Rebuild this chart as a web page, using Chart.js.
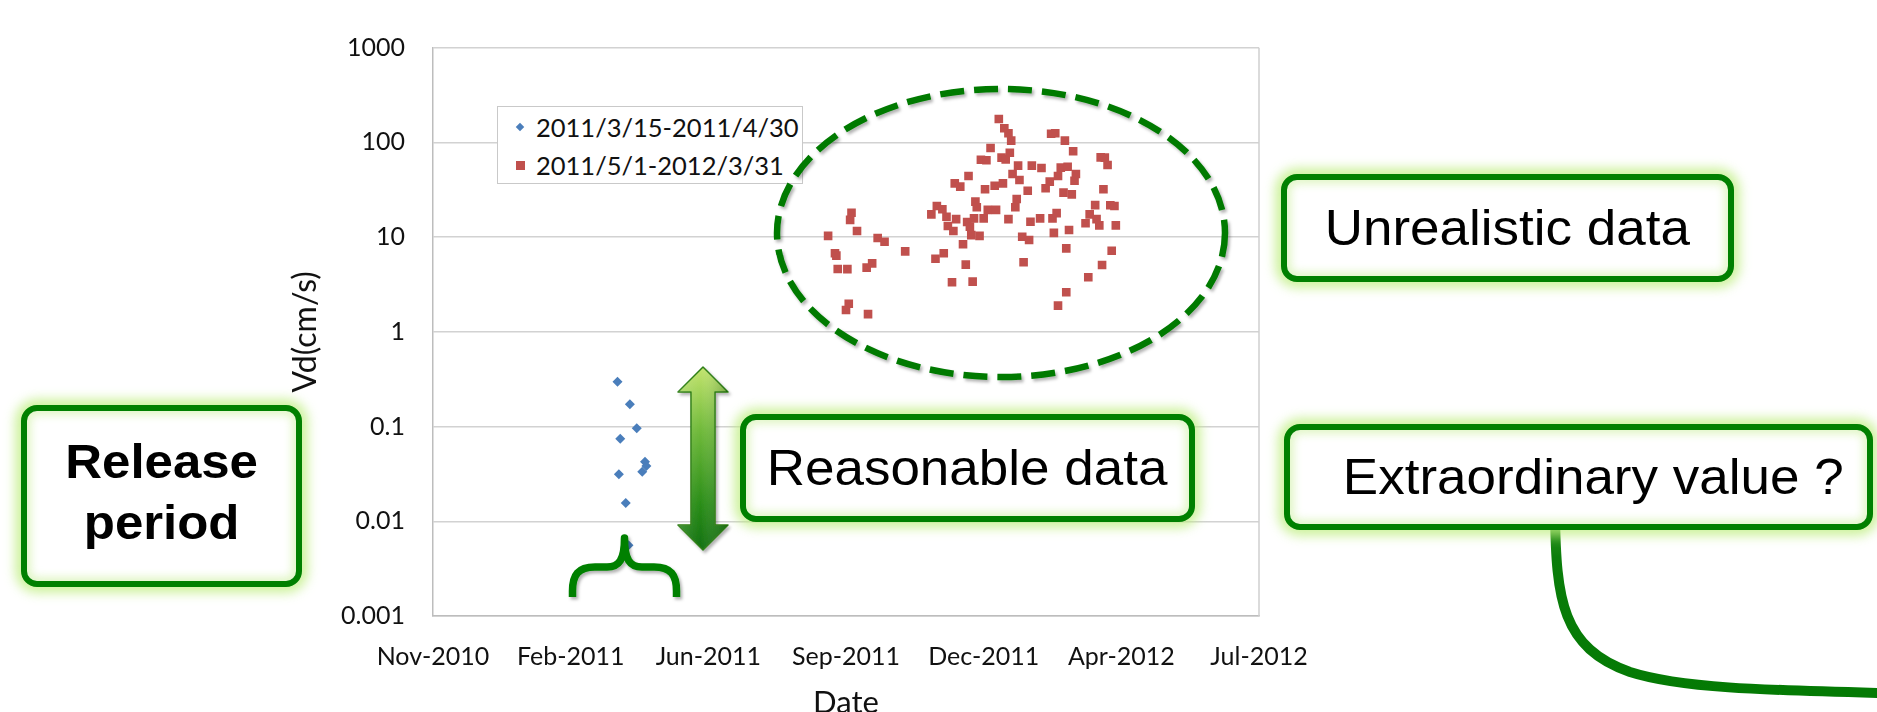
<!DOCTYPE html>
<html>
<head>
<meta charset="utf-8">
<title>Vd(cm/s)</title>
<script src="https://cdn.jsdelivr.net/npm/chart.js@4.4.1/dist/chart.umd.min.js"></script>
<style>
  html, body { margin: 0; padding: 0; background: #fff; }
  #stage { position: relative; width: 1877px; height: 712px; overflow: hidden; background: #fff; }
  #plot { position: absolute; left: 0; top: 0; }
  #legend { position: absolute; left: 497px; top: 106px; width: 306px; height: 78px; box-sizing: border-box;
            border: 1.5px solid #c9c9c9; background: #fff; font-family: Lato, sans-serif; font-size: 25.5px; color: #111; }
  .lg-mark { position: absolute; }
  .lg-text { position: absolute; left: 38px; white-space: nowrap; line-height: 30px; height: 30px; }
  #marks { position: absolute; left: 0; top: 0; }
  .note { position: absolute; box-sizing: border-box; border: 6px solid #008000; border-radius: 16px; background: #fff;
          box-shadow: 0 0 11px 6px rgba(190,238,125,.75), inset 0 0 9px 4px rgba(205,240,160,.6);
          display: flex; align-items: center; justify-content: center;
          font-family: "Liberation Sans", Arial, sans-serif; color: #000; font-size: 50px; line-height: 1.22; text-align: center; }
  .note span { display: inline-block; transform: scaleX(1.06); }
  .note.heavy span { font-weight: bold; font-size: 49px; line-height: 61px; transform: scaleX(1.04); margin-top: -8px; }
</style>
</head>
<body>
<div id="stage">
  <canvas id="plot" width="1877" height="712"></canvas>
  <div id="legend"></div>
  <svg id="marks" width="1877" height="712" viewBox="0 0 1877 712">
    <defs>
      <filter id="soft" x="-10%" y="-10%" width="125%" height="125%">
        <feDropShadow dx="2" dy="2.5" stdDeviation="1.6" flood-color="#000" flood-opacity="0.3"/>
      </filter>
      <linearGradient id="arrowFill" x1="0" y1="0" x2="0" y2="1">
        <stop offset="0" stop-color="#c3e46e"/>
        <stop offset="0.35" stop-color="#6fb93a"/>
        <stop offset="0.75" stop-color="#2a8d18"/>
        <stop offset="1" stop-color="#127010"/>
      </linearGradient>
      <linearGradient id="arrowShade" x1="0" y1="0" x2="1" y2="0">
        <stop offset="0" stop-color="#ffffff" stop-opacity="0.15"/>
        <stop offset="0.45" stop-color="#ffffff" stop-opacity="0"/>
        <stop offset="1" stop-color="#003300" stop-opacity="0.3"/>
      </linearGradient>
      <linearGradient id="stemFill" x1="0" y1="0" x2="0" y2="1">
        <stop offset="0" stop-color="#3f9f2a"/>
        <stop offset="0.25" stop-color="#0b7d0b"/>
        <stop offset="1" stop-color="#047a04"/>
      </linearGradient>
    </defs>
    <!-- dashed ring around the May 2011 - March 2012 cluster -->
    <ellipse cx="1001" cy="233" rx="224" ry="144" fill="none" stroke="#007a00" stroke-width="6.5"
             stroke-dasharray="24 10" filter="url(#soft)"/>
    <!-- brace under the release-period points -->
    <path d="M572.5 597 L572.5 591 C572.5 575 578 567 595 567 L607 567 C619 567 624.5 560 624.5 538
             C624.5 560 630 567 642 567 L654 567 C671 567 676.5 575 676.5 591 L676.5 597"
          fill="none" stroke="#008000" stroke-width="7.5" stroke-linejoin="round" filter="url(#soft)"/>
    <!-- double-headed arrow spanning the reasonable range -->
    <g filter="url(#soft)">
      <path d="M703 367 L728 392 L715 392 L715 525 L728 525 L703 550 L678 525 L691 525 L691 392 L678 392 Z"
            fill="url(#arrowFill)" stroke="#2c7d12" stroke-width="1.5" stroke-linejoin="round"/>
      <path d="M703 367 L728 392 L715 392 L715 525 L728 525 L703 550 L678 525 L691 525 L691 392 L678 392 Z"
            fill="url(#arrowShade)"/>
    </g>
    <!-- leader from the extraordinary-value callout -->
    <path d="M1555 512 C1556 600 1562 648 1630 672 C1680 688 1760 690 1880 693"
          fill="none" stroke="url(#stemFill)" stroke-width="10"/>
  </svg>
  <div class="note heavy" style="left:21px; top:405px; width:281px; height:182px;"><span>Release<br>period</span></div>
  <div class="note" style="left:740px; top:414px; width:455px; height:108px;"><span>Reasonable data</span></div>
  <div class="note" style="left:1281px; top:174px; width:453px; height:108px;"><span>Unrealistic data</span></div>
  <div class="note" style="left:1284px; top:424px; width:589px; height:106px; padding-left:30px;"><span>Extraordinary value ?</span></div>
</div>
<script>
// Release period: 2011/3/15 - 2011/4/30
const releaseDates = ['2011-04-01', '2011-04-02', '2011-04-03', '2011-04-07', '2011-04-09',
                      '2011-04-10', '2011-04-15', '2011-04-19', '2011-04-21', '2011-04-22'];
const releaseVd = [0.298, 0.0313, 0.0745, 0.0156, 0.0056, 0.172, 0.096, 0.0334, 0.0426, 0.0384];

// After release: 2011/5/1 - 2012/3/31
const laterDates = [
  '2011-09-01', '2011-09-06', '2011-09-07', '2011-09-08', '2011-09-14', '2011-09-15', '2011-09-16',
  '2011-09-17', '2011-09-18', '2011-09-22', '2011-09-29', '2011-09-30',
  '2011-10-03', '2011-10-07', '2011-10-12', '2011-10-27',
  '2011-11-15', '2011-11-18', '2011-11-19', '2011-11-23', '2011-11-24', '2011-11-26', '2011-11-27', '2011-11-30',
  '2011-12-01', '2011-12-02', '2011-12-03', '2011-12-06', '2011-12-08', '2011-12-10', '2011-12-11',
  '2011-12-12', '2011-12-13', '2011-12-14', '2011-12-15', '2011-12-16', '2011-12-17', '2011-12-18',
  '2011-12-20', '2011-12-21', '2011-12-23', '2011-12-24', '2011-12-25', '2011-12-26', '2011-12-28', '2011-12-31',
  '2012-01-01', '2012-01-03', '2012-01-05', '2012-01-06', '2012-01-07', '2012-01-08', '2012-01-10',
  '2012-01-10', '2012-01-11', '2012-01-12', '2012-01-13', '2012-01-15', '2012-01-16', '2012-01-17',
  '2012-01-18', '2012-01-20', '2012-01-21', '2012-01-24', '2012-01-25', '2012-01-26', '2012-01-27',
  '2012-02-02', '2012-02-03', '2012-02-06', '2012-02-09', '2012-02-10', '2012-02-11', '2012-02-12',
  '2012-02-13', '2012-02-14', '2012-02-15', '2012-02-15', '2012-02-17', '2012-02-19', '2012-02-20',
  '2012-02-21', '2012-02-21', '2012-02-22', '2012-02-23', '2012-02-25', '2012-02-26', '2012-02-27', '2012-02-28',
  '2012-03-06', '2012-03-08', '2012-03-09', '2012-03-13', '2012-03-14', '2012-03-16', '2012-03-17',
  '2012-03-18', '2012-03-19', '2012-03-20', '2012-03-22', '2012-03-24', '2012-03-25', '2012-03-27', '2012-03-28'
];
const laterVd = [
  10.3, 6.75, 6.37, 4.61, 1.70, 4.6, 1.98,
  15.2, 18.1, 11.6, 4.76, 1.54,
  5.29, 9.8, 8.95, 7.08,
  17.4, 5.92, 21.3, 19.7, 6.75, 16.4, 13.1, 3.34,
  11.6, 37.0, 15.5, 34.1, 8.4, 5.12, 14.45,
  44.2, 12.9, 10.5, 3.39, 15.8, 23.7, 20.7,
  10.3, 65.7, 15.8, 32.0, 64.8, 19.4, 87.3, 34.9,
  19.4, 176.7, 69.0, 37.0, 141, 66.3, 124.8,
  15.5, 77.9, 104.3, 46.4, 20.7, 25.3, 56.8,
  40.1, 10.1, 5.43, 30.9, 9.33, 14.55, 56.8,
  15.8, 53.7, 32.8, 38.5, 123.6, 15.8, 11.1,
  124.8, 17.9, 44.2, 1.89, 54.1, 29.5, 104.3,
  7.62, 2.62, 55.4, 11.9, 28.3, 80.6, 39.4, 46.4,
  14.0, 3.77, 17.4, 21.8, 15.5, 13.3, 69.6,
  5.08, 32.0, 69.0, 57.8, 21.7, 7.19, 21.3, 13.3
];

const seriesLabels = ['2011/3/15-2011/4/30', '2011/5/1-2012/3/31'];

// Date axis: 100-day steps
const xTickDates = ['2010-11-18', '2011-02-26', '2011-06-06', '2011-09-14', '2011-12-23', '2012-04-01', '2012-07-10'];
const xTickLabels = ['Nov-2010', 'Feb-2011', 'Jun-2011', 'Sep-2011', 'Dec-2011', 'Apr-2012', 'Jul-2012'];

// Log axis decades
const yTicks = [0.001, 0.01, 0.1, 1, 10, 100, 1000];
const yTickLabels = ['0.001', '0.01', '0.1', '1', '10', '100', '1000'];

const DAY_MS = 86400000;
const toDay = s => Date.parse(s + 'T00:00:00Z') / DAY_MS;
const points = (dates, vals) => dates.map((d, i) => ({ x: toDay(d), y: vals[i] }));

Chart.defaults.font.family = 'Lato, sans-serif';
Chart.defaults.color = '#111';

const plotFrame = {
  id: 'plotFrame',
  beforeDatasetsDraw(chart) {
    const { ctx, chartArea: a } = chart;
    ctx.save();
    ctx.strokeStyle = '#cfcfcf';
    ctx.lineWidth = 1.5;
    ctx.beginPath();
    ctx.moveTo(a.right, a.top);
    ctx.lineTo(a.right, a.bottom);
    ctx.stroke();
    ctx.restore();
  }
};

const chart = new Chart(document.getElementById('plot'), {
  type: 'scatter',
  data: {
    datasets: [
      {
        label: seriesLabels[0],
        data: points(releaseDates, releaseVd),
        pointStyle: 'rectRot',
        pointRadius: 5,
        pointBackgroundColor: '#4a7ebb',
        pointBorderWidth: 0,
        backgroundColor: '#4a7ebb',
        borderColor: '#4a7ebb'
      },
      {
        label: seriesLabels[1],
        data: points(laterDates, laterVd),
        pointStyle: 'rect',
        pointRadius: 6.1,
        pointBackgroundColor: '#c0504d',
        pointBorderWidth: 0,
        backgroundColor: '#c0504d',
        borderColor: '#c0504d'
      }
    ]
  },
  options: {
    responsive: false,
    devicePixelRatio: 1,
    animation: false,
    events: [],
    layout: { padding: { left: 289.5, right: 618, top: 47.7, bottom: 0 } },
    plugins: { legend: { display: false }, tooltip: { enabled: false } },
    scales: {
      x: {
        type: 'linear',
        min: toDay(xTickDates[0]),
        max: toDay(xTickDates[xTickDates.length - 1]),
        afterBuildTicks: s => { s.ticks = xTickDates.map(d => ({ value: toDay(d) })); },
        afterFit: s => { s.height = 96; },
        grid: { display: false, drawTicks: false },
        border: { display: true, color: '#bdbdbd', width: 1.5 },
        ticks: { padding: 26, maxRotation: 0, autoSkip: false, font: { size: 25 }, color: '#111',
                 callback: (v, i) => xTickLabels[i] },
        title: { display: true, text: 'Date', font: { size: 31, lineHeight: 1 }, padding: { top: 0, bottom: -6 }, color: '#111' }
      },
      y: {
        type: 'logarithmic',
        min: yTicks[0],
        max: yTicks[yTicks.length - 1],
        afterBuildTicks: s => { s.ticks = yTicks.map(v => ({ value: v, major: true })); },
        afterFit: s => { s.width = 433 - 289.5; },
        grid: { color: '#d2d2d2', lineWidth: 1.5, drawTicks: false },
        border: { display: true, color: '#bdbdbd', width: 1.5 },
        ticks: { padding: 28, autoSkip: false, font: { size: 25 }, color: '#111',
                 callback: (v, i) => yTickLabels[i] },
        title: { display: true, text: 'Vd(cm/s)', font: { size: 32, lineHeight: 1 }, padding: { top: 0, bottom: 0 }, color: '#111' }
      }
    }
  },
  plugins: [plotFrame]
});

// Legend box built from the chart's own datasets
const legendEl = document.getElementById('legend');
chart.data.datasets.forEach((ds, i) => {
  const cy = 19.5 + i * 38.6;
  const mark = document.createElement('div');
  mark.className = 'lg-mark';
  if (ds.pointStyle === 'rectRot') {
    Object.assign(mark.style, { width: '6px', height: '6px', left: '19px', top: (cy - 3) + 'px',
                                background: ds.pointBackgroundColor, transform: 'rotate(45deg)' });
  } else {
    Object.assign(mark.style, { width: '9px', height: '9px', left: '17.5px', top: (cy - 4.5) + 'px',
                                background: ds.pointBackgroundColor });
  }
  const text = document.createElement('div');
  text.className = 'lg-text';
  text.style.top = (cy - 15) + 'px';
  text.textContent = ds.label;
  legendEl.appendChild(mark);
  legendEl.appendChild(text);
});
</script>
</body>
</html>
